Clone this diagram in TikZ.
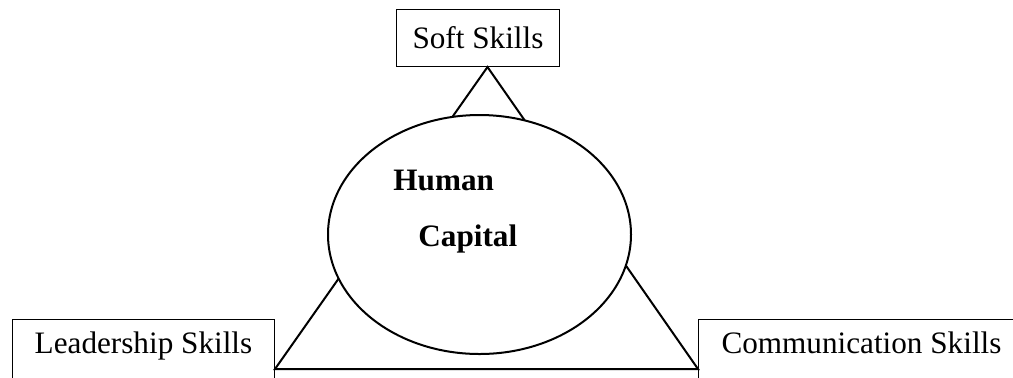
\documentclass[tikz,border=0pt]{standalone}
\usepackage{fontspec}
\setmainfont{Liberation Serif}
\usetikzlibrary{shapes.geometric}

\tikzset{
  skill/.style={draw,line width=.5pt,anchor=north west,font=\fontsize{15.6}{18}\selectfont},
  hcap/.style={anchor=base west,inner sep=0pt,font=\fontsize{15.6}{18}\selectfont\bfseries}
}

\begin{document}
\begin{tikzpicture}[x=.5pt,y=-.5pt]
\path[use as bounding box,clip] (0,0) rectangle (1013,377);
% the three skill boxes
\node[skill,minimum width=81.5pt,minimum height=28.5pt,inner sep=0pt] (soft) at (396,9) {Soft Skills};
\node[skill,minimum width=131pt,inner ysep=6pt,text height=11pt,text depth=30pt] (lead) at (12,319) {Leadership Skills};
\node[skill,inner xsep=11.5pt,inner ysep=6pt,text height=11pt,text depth=30pt] (comm) at (698,319) {Communication Skills};
% triangle corners
\coordinate (apex) at ([xshift=4.75pt]soft.south);
\coordinate (bl) at ([yshift=-25pt]lead.north east);
\coordinate (br) at ([yshift=-25pt]comm.north west);
\draw[line width=1pt] (bl) -- (apex) -- (br) -- cycle;
% centre ellipse
\node[draw,ellipse,fill=white,line width=1pt,minimum width=151.5pt,minimum height=119.5pt] (hc) at (479.5,234.5) {};
\node[hcap] (human) at (393,190) {Human};
\node[hcap] (capital) at (418,246) {Capital};
\end{tikzpicture}
\end{document}
